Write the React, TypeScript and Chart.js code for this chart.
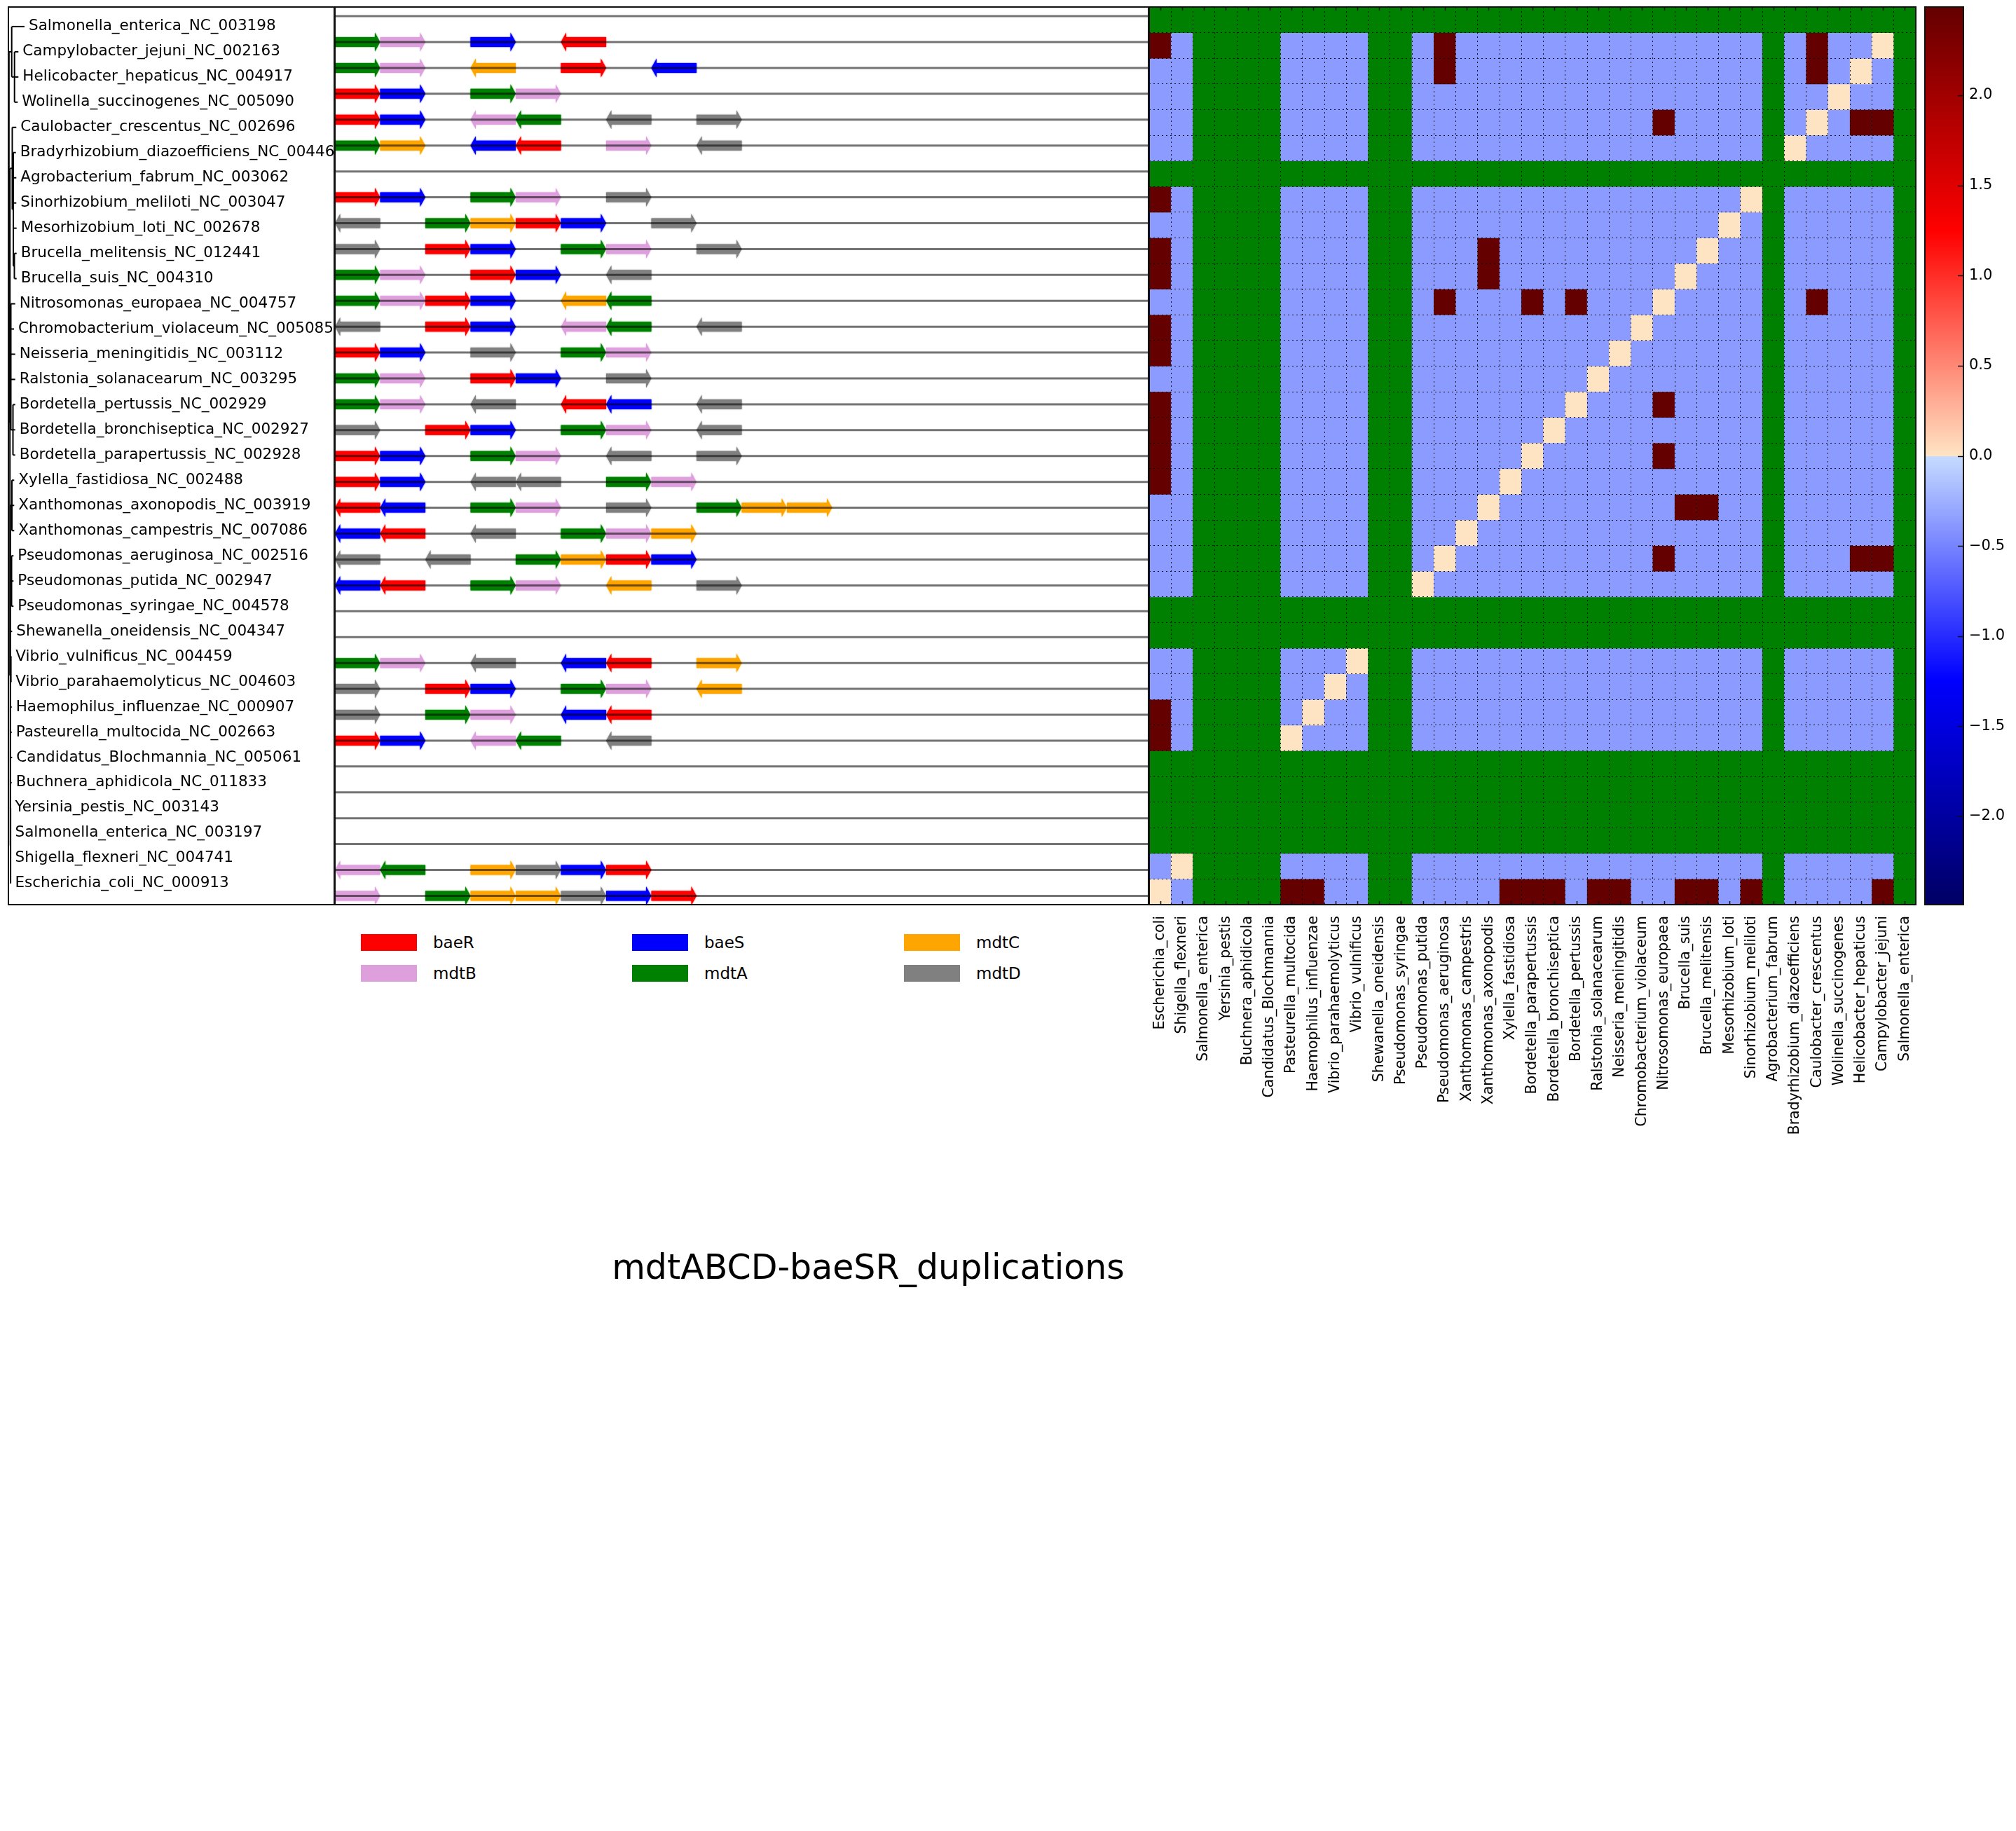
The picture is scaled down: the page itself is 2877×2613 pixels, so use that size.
import React, { useEffect, useRef } from "react";
import { Chart, registerables } from "chart.js";

Chart.register(...registerables);

const FONT = "'DejaVu Sans', 'Liberation Sans', sans-serif";

// ---------------- DATA ----------------
const species = [
  "Salmonella_enterica_NC_003198",
  "Campylobacter_jejuni_NC_002163",
  "Helicobacter_hepaticus_NC_004917",
  "Wolinella_succinogenes_NC_005090",
  "Caulobacter_crescentus_NC_002696",
  "Bradyrhizobium_diazoefficiens_NC_004463",
  "Agrobacterium_fabrum_NC_003062",
  "Sinorhizobium_meliloti_NC_003047",
  "Mesorhizobium_loti_NC_002678",
  "Brucella_melitensis_NC_012441",
  "Brucella_suis_NC_004310",
  "Nitrosomonas_europaea_NC_004757",
  "Chromobacterium_violaceum_NC_005085",
  "Neisseria_meningitidis_NC_003112",
  "Ralstonia_solanacearum_NC_003295",
  "Bordetella_pertussis_NC_002929",
  "Bordetella_bronchiseptica_NC_002927",
  "Bordetella_parapertussis_NC_002928",
  "Xylella_fastidiosa_NC_002488",
  "Xanthomonas_axonopodis_NC_003919",
  "Xanthomonas_campestris_NC_007086",
  "Pseudomonas_aeruginosa_NC_002516",
  "Pseudomonas_putida_NC_002947",
  "Pseudomonas_syringae_NC_004578",
  "Shewanella_oneidensis_NC_004347",
  "Vibrio_vulnificus_NC_004459",
  "Vibrio_parahaemolyticus_NC_004603",
  "Haemophilus_influenzae_NC_000907",
  "Pasteurella_multocida_NC_002663",
  "Candidatus_Blochmannia_NC_005061",
  "Buchnera_aphidicola_NC_011833",
  "Yersinia_pestis_NC_003143",
  "Salmonella_enterica_NC_003197",
  "Shigella_flexneri_NC_004741",
  "Escherichia_coli_NC_000913",
];

const colLabels = [
  "Escherichia_coli", "Shigella_flexneri", "Salmonella_enterica", "Yersinia_pestis",
  "Buchnera_aphidicola", "Candidatus_Blochmannia", "Pasteurella_multocida",
  "Haemophilus_influenzae", "Vibrio_parahaemolyticus", "Vibrio_vulnificus",
  "Shewanella_oneidensis", "Pseudomonas_syringae", "Pseudomonas_putida",
  "Pseudomonas_aeruginosa", "Xanthomonas_campestris", "Xanthomonas_axonopodis",
  "Xylella_fastidiosa", "Bordetella_parapertussis", "Bordetella_bronchiseptica",
  "Bordetella_pertussis", "Ralstonia_solanacearum", "Neisseria_meningitidis",
  "Chromobacterium_violaceum", "Nitrosomonas_europaea", "Brucella_suis",
  "Brucella_melitensis", "Mesorhizobium_loti", "Sinorhizobium_meliloti",
  "Agrobacterium_fabrum", "Bradyrhizobium_diazoefficiens", "Caulobacter_crescentus",
  "Wolinella_succinogenes", "Helicobacter_hepaticus", "Campylobacter_jejuni",
  "Salmonella_enterica",
];

// cell codes: x = missing (NaN), '-' = low, 'o' = ~0, '#' = high
const cellValues: Record<string, number | null> = { x: null, "-": -0.37, o: 0.0, "#": 2.49 };

const heatRows = [
  "xxxxx xxxxx xxxxx xxxxx xxxxx xxxxx xxxxx",
  "#-xxx x---- xx-#- ----- ----- ---x- #--ox",
  "--xxx x---- xx-#- ----- ----- ---x- #-o-x",
  "--xxx x---- xx--- ----- ----- ---x- -o--x",
  "--xxx x---- xx--- ----- ---#- ---x- o-##x",
  "--xxx x---- xx--- ----- ----- ---xo ----x",
  "xxxxx xxxxx xxxxx xxxxx xxxxx xxxxx xxxxx",
  "#-xxx x---- xx--- ----- ----- --ox- ----x",
  "--xxx x---- xx--- ----- ----- -o-x- ----x",
  "#-xxx x---- xx--- #---- ----- o--x- ----x",
  "#-xxx x---- xx--- #---- ----o ---x- ----x",
  "--xxx x---- xx-#- --#-# ---o- ---x- #---x",
  "#-xxx x---- xx--- ----- --o-- ---x- ----x",
  "#-xxx x---- xx--- ----- -o--- ---x- ----x",
  "--xxx x---- xx--- ----- o---- ---x- ----x",
  "#-xxx x---- xx--- ----o ---#- ---x- ----x",
  "#-xxx x---- xx--- ---o- ----- ---x- ----x",
  "#-xxx x---- xx--- --o-- ---#- ---x- ----x",
  "#-xxx x---- xx--- -o--- ----- ---x- ----x",
  "--xxx x---- xx--- o---- ----# #--x- ----x",
  "--xxx x---- xx--o ----- ----- ---x- ----x",
  "--xxx x---- xx-o- ----- ---#- ---x- --##x",
  "--xxx x---- xxo-- ----- ----- ---x- ----x",
  "xxxxx xxxxx xxxxx xxxxx xxxxx xxxxx xxxxx",
  "xxxxx xxxxx xxxxx xxxxx xxxxx xxxxx xxxxx",
  "--xxx x---o xx--- ----- ----- ---x- ----x",
  "--xxx x--o- xx--- ----- ----- ---x- ----x",
  "#-xxx x-o-- xx--- ----- ----- ---x- ----x",
  "#-xxx xo--- xx--- ----- ----- ---x- ----x",
  "xxxxx xxxxx xxxxx xxxxx xxxxx xxxxx xxxxx",
  "xxxxx xxxxx xxxxx xxxxx xxxxx xxxxx xxxxx",
  "xxxxx xxxxx xxxxx xxxxx xxxxx xxxxx xxxxx",
  "xxxxx xxxxx xxxxx xxxxx xxxxx xxxxx xxxxx",
  "-oxxx x---- xx--- ----- ----- ---x- ----x",
  "o-xxx x##-- xx--- -###- ##--# #-#x- ---#x",
].map((r) => r.replace(/ /g, ""));

const vmin = -2.49;
const vmax = 2.49;
const negStops: [number, string][] = [[-2.49, "#000064"], [-1.245, "#0000ff"], [0, "#c6dcff"]];
const posStops: [number, string][] = [[0, "#ffe4c4"], [1.245, "#ff0000"], [2.49, "#640000"]];
const colorbarTicks = [-2.0, -1.5, -1.0, -0.5, 0.0, 0.5, 1.0, 1.5, 2.0];

// genes: letter + direction + slot
const geneNames: Record<string, string> = { R: "baeR", S: "baeS", C: "mdtC", B: "mdtB", A: "mdtA", D: "mdtD" };
const geneColors: Record<string, string> = {
  R: "#ff0000", S: "#0000ff", C: "#ffa500", B: "#dda0dd", A: "#008000", D: "#808080",
};
const legendOrder = ["R", "S", "C", "B", "A", "D"];
const slotCount = 18;

const geneRows = [
  "",
  "A+0 B+1 S+3 R-5",
  "A+0 B+1 C-3 R+5 S-7",
  "R+0 S+1 A+3 B+4",
  "R+0 S+1 B-3 A-4 D-6 D+8",
  "A+0 C+1 S-3 R-4 B+6 D-8",
  "",
  "R+0 S+1 A+3 B+4 D+6",
  "D-0 A+2 C+3 R+4 S+5 D+7",
  "D+0 R+2 S+3 A+5 B+6 D+8",
  "A+0 B+1 R+3 S+4 D-6",
  "A+0 B+1 R+2 S+3 C-5 A-6",
  "D-0 R+2 S+3 B-5 A-6 D-8",
  "R+0 S+1 D+3 A+5 B+6",
  "A+0 B+1 R+3 S+4 D+6",
  "A+0 B+1 D-3 R-5 S-6 D-8",
  "D+0 R+2 S+3 A+5 B+6 D-8",
  "R+0 S+1 A+3 B+4 D-6 D+8",
  "R+0 S+1 D-3 D-4 A+6 B+7",
  "R-0 S-1 A+3 B+4 D+6 A+8 C+9 C+10",
  "S-0 R-1 D-3 A+5 B+6 C+7",
  "D-0 D-2 A+4 C+5 R+6 S+7",
  "S-0 R-1 A+3 B+4 C-6 D+8",
  "",
  "",
  "A+0 B+1 D-3 S-5 R-6 C+8",
  "D+0 R+2 S+3 A+5 B+6 C-8",
  "D+0 A+2 B+3 S-5 R-6",
  "R+0 S+1 B-3 A-4 D-6",
  "",
  "",
  "",
  "",
  "B-0 A-1 C+3 D+4 S+5 R+6",
  "B+0 A+2 C+3 C+4 D+5 S+6 R+7",
];

// tree: leaf tip depths and topology (depth units)
const treeTips = [
  23, 14.3, 14.3, 13.3, 11.3, 10.7, 11.3, 11.3, 11.7, 11.7, 11.7, 9.7, 8, 9.7, 9.7, 9.7, 9.7, 9.7,
  8.3, 8.3, 8.3, 7.3, 7.3, 7.3, 5.3, 4.3, 4.3, 4.7, 4.7, 5.3, 4.7, 3.5, 3.5, 3.5, 3.5,
];
type TNode = number | { x: number; c: TNode[] };
const treeTopology: TNode = {
  x: 0.8,
  c: [
    { x: 4.7, c: [0, { x: 8.7, c: [1, 2, 3] }] },
    {
      x: 2.2,
      c: [
        { x: 5.5, c: [4, { x: 7, c: [5, 6, 7, 8, { x: 8.5, c: [9, 10] }] }] },
        { x: 3.5, c: [11, 12, 13, 14, { x: 6.5, c: [15, 16, 17] }] },
        {
          x: 2.8,
          c: [
            { x: 5, c: [18, 19, 20] },
            { x: 4.5, c: [21, 22, 23] },
            24,
            { x: 3.6, c: [25, 26] },
            27, 28, 29, 30,
            { x: 3.1, c: [31, 32, 33, 34] },
          ],
        },
      ],
    },
  ],
};

// ---------------- HELPERS ----------------
function hexRgb(h: string) {
  return [parseInt(h.slice(1, 3), 16), parseInt(h.slice(3, 5), 16), parseInt(h.slice(5, 7), 16)];
}
function interp(stops: [number, string][], v: number) {
  const vv = Math.max(stops[0][0], Math.min(stops[stops.length - 1][0], v));
  for (let k = 0; k < stops.length - 1; k++) {
    const [a, ca] = stops[k];
    const [b, cb] = stops[k + 1];
    if (vv >= a && vv <= b) {
      const t = b === a ? 0 : (vv - a) / (b - a);
      const A = hexRgb(ca), B = hexRgb(cb);
      const c = A.map((x, i) => Math.round(x + (B[i] - x) * t));
      return `rgb(${c[0]},${c[1]},${c[2]})`;
    }
  }
  return stops[stops.length - 1][1];
}
function cmap(v: number) {
  return v >= 0 ? interp(posStops, v) : interp(negStops, v);
}
function cellColor(ch: string) {
  const v = cellValues[ch];
  return v === null || v === undefined ? "#008000" : cmap(v);
}
function parseGenes(row: string) {
  return row
    .split(" ")
    .filter(Boolean)
    .map((t) => ({ g: t[0], dir: t[1] === "+" ? 1 : -1, slot: parseInt(t.slice(2), 10) }));
}
function buildTreeSegments() {
  const segs: { x: number; y: number }[][] = [];
  const walk = (n: TNode): number => {
    if (typeof n === "number") return n;
    const ys = n.c.map(walk);
    n.c.forEach((ch, k) => {
      const cx = typeof ch === "number" ? treeTips[ch] : ch.x;
      segs.push([{ x: n.x, y: ys[k] }, { x: cx, y: ys[k] }]);
    });
    segs.push([{ x: n.x, y: ys[0] }, { x: n.x, y: ys[ys.length - 1] }]);
    return (ys[0] + ys[ys.length - 1]) / 2;
  };
  walk(treeTopology);
  return segs;
}

const framePlugin = {
  id: "frame",
  afterDraw(chart: any) {
    const { ctx, chartArea: a } = chart;
    ctx.save();
    ctx.strokeStyle = "#111";
    ctx.lineWidth = 2;
    ctx.strokeRect(a.left, a.top, a.right - a.left, a.bottom - a.top);
    ctx.restore();
  },
};

const baseOpts = {
  responsive: false,
  animation: false as const,
  devicePixelRatio: 1,
  events: [] as any[],
  plugins: { legend: { display: false }, tooltip: { enabled: false } },
};

// ---------------- CONFIGS ----------------
function treeConfig(): any {
  const segs = buildTreeSegments();
  const labelPlugin = {
    id: "treeLabels",
    afterDatasetsDraw(chart: any) {
      const { ctx, chartArea: a, scales } = chart;
      ctx.save();
      ctx.beginPath();
      ctx.rect(a.left, a.top, a.right - a.left, a.bottom - a.top);
      ctx.clip();
      ctx.font = `21.5px ${FONT}`;
      ctx.fillStyle = "#000";
      ctx.textBaseline = "middle";
      ctx.textAlign = "left";
      species.forEach((s, i) => {
        ctx.fillText(s, scales.x.getPixelForValue(treeTips[i] + 6), scales.y.getPixelForValue(i));
      });
      ctx.restore();
    },
  };
  return {
    type: "scatter",
    data: {
      datasets: segs.map((s) => ({
        data: s,
        showLine: true,
        borderColor: "#000",
        borderWidth: 2,
        pointRadius: 0,
      })),
    },
    options: {
      ...baseOpts,
      layout: { padding: { left: 4, right: 4, top: 4, bottom: 4 } },
      scales: {
        x: { type: "linear", display: false, min: 0, max: 465 },
        y: { type: "linear", display: false, min: -0.776, max: 34.84, reverse: true },
      },
    },
    plugins: [labelPlugin, framePlugin],
  };
}

function geneConfig(): any {
  const arrowPlugin = {
    id: "arrows",
    beforeDatasetsDraw(chart: any) {
      const { ctx, scales } = chart;
      const bh = 7, hh = 13.5, hl = 7.5;
      ctx.save();
      geneRows.forEach((row, i) => {
        parseGenes(row).forEach(({ g, dir, slot }) => {
          const x0 = scales.x.getPixelForValue(slot);
          const x1 = scales.x.getPixelForValue(slot + 1);
          const yc = scales.y.getPixelForValue(i);
          ctx.beginPath();
          if (dir > 0) {
            ctx.moveTo(x0, yc - bh);
            ctx.lineTo(x1 - hl, yc - bh);
            ctx.lineTo(x1 - hl, yc - hh);
            ctx.lineTo(x1, yc);
            ctx.lineTo(x1 - hl, yc + hh);
            ctx.lineTo(x1 - hl, yc + bh);
            ctx.lineTo(x0, yc + bh);
          } else {
            ctx.moveTo(x1, yc - bh);
            ctx.lineTo(x0 + hl, yc - bh);
            ctx.lineTo(x0 + hl, yc - hh);
            ctx.lineTo(x0, yc);
            ctx.lineTo(x0 + hl, yc + hh);
            ctx.lineTo(x0 + hl, yc + bh);
            ctx.lineTo(x1, yc + bh);
          }
          ctx.closePath();
          ctx.fillStyle = geneColors[g];
          ctx.shadowColor = geneColors[g];
          ctx.shadowBlur = 2;
          ctx.fill();
        });
      });
      ctx.restore();
    },
  };
  return {
    type: "scatter",
    data: {
      datasets: species.map((_, i) => ({
        data: [{ x: 0, y: i }, { x: slotCount, y: i }],
        showLine: true,
        borderColor: "rgba(0,0,0,0.55)",
        borderWidth: 3,
        pointRadius: 0,
      })),
    },
    options: {
      ...baseOpts,
      layout: { padding: { left: 4, right: 4, top: 4, bottom: 4 } },
      scales: {
        x: { type: "linear", display: false, min: 0, max: slotCount },
        y: { type: "linear", display: false, min: -0.355, max: 34.34, reverse: true },
      },
    },
    plugins: [arrowPlugin, framePlugin],
  };
}

function heatConfig(): any {
  const tickPlugin = {
    id: "heatTicks",
    afterDraw(chart: any) {
      const { ctx, chartArea: a, scales } = chart;
      ctx.save();
      ctx.strokeStyle = "#111";
      ctx.lineWidth = 1.5;
      colLabels.forEach((_, j) => {
        const px = Math.round(scales.x.getPixelForValue(j)) + 0.5;
        ctx.beginPath();
        ctx.moveTo(px, a.top);
        ctx.lineTo(px, a.top + 5);
        ctx.moveTo(px, a.bottom);
        ctx.lineTo(px, a.bottom - 5);
        ctx.stroke();
      });
      ctx.restore();
    },
  };
  return {
    type: "bar",
    data: {
      labels: colLabels,
      datasets: heatRows.map((r, i) => ({
        label: species[i],
        data: colLabels.map(() => 1),
        backgroundColor: r.split("").map(cellColor),
        borderWidth: 0,
        barPercentage: 1,
        categoryPercentage: 1,
      })),
    },
    options: {
      ...baseOpts,
      layout: { autoPadding: false, padding: { left: 4, right: 4, top: 4, bottom: 0 } },
      scales: {
        x: {
          type: "category",
          stacked: true,
          offset: true,
          grid: { offset: true, color: "rgba(0,0,0,0.9)", lineWidth: 1, z: 1, drawTicks: false },
          border: { display: false, dash: [2, 4] },
          ticks: {
            autoSkip: false,
            maxRotation: 90,
            minRotation: 90,
            padding: 16,
            color: "#000",
            font: { family: FONT, size: 20.5 },
          },
          afterFit: (s: any) => {
            s.height = 400;
            s.paddingLeft = 0;
            s.paddingRight = 0;
          },
        },
        y: {
          type: "linear",
          stacked: true,
          min: 0,
          max: 35,
          reverse: true,
          grid: { color: "rgba(0,0,0,0.9)", lineWidth: 1, z: 1, drawTicks: false },
          border: { display: false, dash: [2, 4] },
          ticks: { display: false, stepSize: 1, autoSkip: false, maxTicksLimit: 100 },
          afterFit: (s: any) => {
            s.width = 0;
            s.paddingTop = 0;
            s.paddingBottom = 0;
          },
        },
      },
    },
    plugins: [framePlugin, tickPlugin],
  };
}

function colorbarConfig(): any {
  const tickPlugin = {
    id: "cbTicks",
    afterDraw(chart: any) {
      const { ctx, chartArea: a, scales } = chart;
      ctx.save();
      ctx.strokeStyle = "#111";
      ctx.lineWidth = 1.5;
      colorbarTicks.forEach((v) => {
        const py = Math.round(scales.y.getPixelForValue(v)) + 0.5;
        ctx.beginPath();
        ctx.moveTo(a.right - 8, py);
        ctx.lineTo(a.right, py);
        ctx.stroke();
      });
      ctx.restore();
    },
  };
  return {
    type: "bar",
    data: {
      labels: [""],
      datasets: [
        {
          data: [[vmin, vmax]],
          backgroundColor: (c: any) => {
            const ch = c.chart;
            if (!ch.chartArea) return "#fff";
            const ys = ch.scales.y;
            const g = ch.ctx.createLinearGradient(0, ys.getPixelForValue(vmin), 0, ys.getPixelForValue(vmax));
            [...negStops, ...posStops].forEach(([v, col]) => {
              g.addColorStop((v - vmin) / (vmax - vmin), col);
            });
            return g;
          },
          borderWidth: 0,
          barPercentage: 1,
          categoryPercentage: 1,
        },
      ],
    },
    options: {
      ...baseOpts,
      layout: { autoPadding: false, padding: { left: 4, right: 0, top: 4, bottom: 4 } },
      scales: {
        x: { display: false },
        y: {
          position: "right",
          min: vmin,
          max: vmax,
          grid: { display: false, drawTicks: false },
          border: { display: false },
          afterBuildTicks: (s: any) => {
            s.ticks = colorbarTicks.map((v) => ({ value: v }));
          },
          ticks: {
            padding: 8,
            color: "#000",
            font: { family: FONT, size: 21 },
            callback: (v: any) => (Number(v) < 0 ? "\u2212" : "") + Math.abs(Number(v)).toFixed(1),
          },
          afterFit: (s: any) => {
            s.width = 75;
            s.paddingTop = 0;
            s.paddingBottom = 0;
          },
        },
      },
    },
    plugins: [framePlugin, tickPlugin],
  };
}

// ---------------- COMPONENTS ----------------
function ChartBox(props: { left: number; top: number; width: number; height: number; make: () => any }) {
  const ref = useRef<HTMLCanvasElement>(null);
  useEffect(() => {
    const chart = new Chart(ref.current as HTMLCanvasElement, props.make());
    return () => chart.destroy();
  }, []);
  return (
    <canvas
      ref={ref}
      width={props.width}
      height={props.height}
      style={{ position: "absolute", left: props.left, top: props.top, width: props.width, height: props.height }}
    />
  );
}

export default function App() {
  const legendCols = [515, 902, 1290];
  const legendRows = [1333, 1377];
  return (
    <div
      style={{
        position: "absolute",
        left: 0,
        top: 0,
        width: 2877,
        height: 2613,
        background: "#fff",
        overflow: "hidden",
        fontFamily: FONT,
      }}
    >
      <ChartBox left={8} top={6} width={473} height={1289} make={treeConfig} />
      <ChartBox left={474} top={6} width={1169} height={1289} make={geneConfig} />
      <ChartBox left={1636} top={6} width={1102} height={1685} make={heatConfig} />
      <ChartBox left={2743} top={6} width={134} height={1289} make={colorbarConfig} />
      {legendOrder.map((k, idx) => {
        const left = legendCols[idx % 3];
        const top = legendRows[Math.floor(idx / 3)];
        return (
          <React.Fragment key={k}>
            <div
              style={{ position: "absolute", left, top, width: 80, height: 24, background: geneColors[k] }}
            />
            <div
              style={{
                position: "absolute",
                left: left + 103,
                top: top - 6,
                height: 36,
                lineHeight: "36px",
                fontSize: 23,
                color: "#000",
                whiteSpace: "nowrap",
              }}
            >
              {geneNames[k]}
            </div>
          </React.Fragment>
        );
      })}
      <div
        style={{
          position: "absolute",
          left: 639,
          width: 1200,
          top: 1784,
          textAlign: "center",
          fontSize: 49,
          lineHeight: "49px",
          color: "#000",
          whiteSpace: "nowrap",
        }}
      >
        mdtABCD-baeSR_duplications
      </div>
    </div>
  );
}
